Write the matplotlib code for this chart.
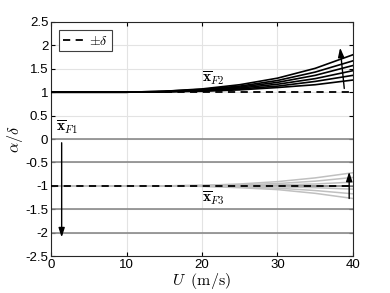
import numpy as np
import matplotlib.pyplot as plt

plt.rcParams['mathtext.fontset'] = 'cm'
plt.rcParams['font.family'] = ['Liberation Sans', 'DejaVu Sans']

# speed samples (m/s)
U = [0, 10, 15, 20, 25, 30, 35, 40]

# F1 branch: flat levels
f1_levels = [0, -0.5, -1.0, -1.5, -2.0]

# F2 branch curves
f2_curves = [
    [1, 1, 1.02, 1.07, 1.16, 1.30, 1.51, 1.80],
    [1, 1, 1.02, 1.06, 1.13, 1.25, 1.43, 1.67],
    [1, 1, 1.01, 1.05, 1.11, 1.21, 1.36, 1.57],
    [1, 1, 1.01, 1.04, 1.09, 1.17, 1.29, 1.46],
    [1, 1, 1.01, 1.03, 1.07, 1.13, 1.23, 1.36],
    [1, 1, 1.01, 1.02, 1.05, 1.10, 1.16, 1.26],
]

# F3 branch curves
f3_curves = [
    [-1, -1, -1, -0.99, -0.96, -0.91, -0.83, -0.72],
    [-1, -1, -1, -0.99, -0.98, -0.95, -0.90, -0.82],
    [-1, -1, -1, -1.00, -0.99, -0.98, -0.96, -0.92],
    [-1, -1, -1, -1.00, -1.01, -1.02, -1.04, -1.07],
    [-1, -1, -1, -1.01, -1.02, -1.05, -1.10, -1.17],
    [-1, -1, -1, -1.01, -1.04, -1.08, -1.16, -1.27],
]

delta = [1, -1]

fig = plt.figure(figsize=(3.9, 2.93), dpi=100)
ax = fig.add_axes([0.131, 0.126, 0.774, 0.799])

for lev in f1_levels:
    ax.plot([U[0], U[-1]], [lev, lev], color='#8a8a8a', lw=1.2, zorder=2)
for c in f3_curves:
    ax.plot(U, c, color='#c0c0c0', lw=1.1, zorder=2)
for c in f2_curves:
    ax.plot(U, c, color='black', lw=1.2, zorder=3)

h, = ax.plot([U[0], U[-1]], [delta[0]] * 2, 'k--', lw=1.3, dashes=(4, 3), zorder=4, label=r'$\pm\delta$')
ax.plot([U[0], U[-1]], [delta[1]] * 2, 'k--', lw=1.3, dashes=(4, 3), zorder=4)

aprops = dict(arrowstyle='-|>,head_width=0.18,head_length=0.55', color='black', lw=1.0, shrinkA=0, shrinkB=0)
ax.annotate('', xy=(38.3, 1.95), xytext=(38.85, 1.08), arrowprops=aprops, zorder=5)
ax.annotate('', xy=(1.4, -2.1), xytext=(1.4, -0.08), arrowprops=aprops, zorder=5)
ax.annotate('', xy=(39.5, -0.70), xytext=(39.5, -1.27), arrowprops=aprops, zorder=5)

ax.text(20.0, 1.30, r'$\overline{\mathbf{x}}_{F2}$', fontsize=11, va='center')
ax.text(0.6, 0.24, r'$\overline{\mathbf{x}}_{F1}$', fontsize=11, va='center')
ax.text(20.0, -1.27, r'$\overline{\mathbf{x}}_{F3}$', fontsize=11, va='center')

ax.set_xlim(0, 40)
ax.set_ylim(-2.5, 2.5)
ax.set_xticks([0, 10, 20, 30, 40])
ax.set_yticks(np.arange(-2.5, 2.51, 0.5))
ax.set_yticklabels(['-2.5', '-2', '-1.5', '-1', '-0.5', '0', '0.5', '1', '1.5', '2', '2.5'])
ax.grid(True, color='#e3e3e3', lw=0.8)
ax.set_axisbelow(True)
ax.tick_params(direction='in', top=True, right=True, labelsize=9.5, length=3, pad=2)
for s in ax.spines.values():
    s.set_color('#262626')
    s.set_linewidth(0.8)

ax.set_xlabel(r'$U\;\;\mathrm{(m/s)}$', fontsize=11.5, labelpad=0)
ax.set_ylabel(r'$\alpha/\delta$', fontsize=11.5, labelpad=0)

leg = ax.legend(handles=[h], loc='upper left', fontsize=10, handlelength=1.5,
                fancybox=False, edgecolor='#404040', borderpad=0.25,
                handletextpad=0.4, borderaxespad=0.6, framealpha=1)
leg.get_frame().set_linewidth(0.8)

plt.savefig('out.png', dpi=100)
